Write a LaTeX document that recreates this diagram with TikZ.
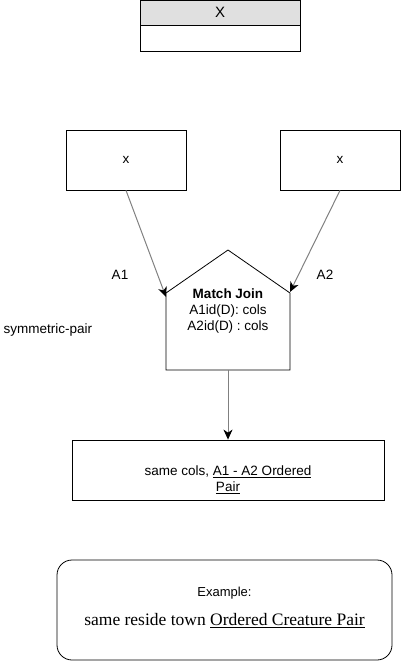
\documentclass[tikz,border=0pt]{standalone}
\usepackage{fontspec}
\setmainfont{Liberation Sans}
\newfontfamily\timesfont{Liberation Serif}
\usepackage{xcolor}
\usetikzlibrary{positioning,arrows.meta,calc}

\definecolor{headgrey}{HTML}{E0E0E0}
\definecolor{edgegrey}{HTML}{808080}

\begin{document}
\begin{tikzpicture}[x=1pt, y=-1pt,
      box/.style={draw, thick, minimum width=120pt, minimum height=60pt, inner sep=0pt},
      lbl/.style={font=\fontsize{13.5}{16}\selectfont},
      arr/.style={draw=edgegrey, line width=1pt, -{Stealth[length=10pt, width=9pt, inset=3pt, black]}},
    ]
    \useasboundingbox (0,0) rectangle (401,661);
    % entity table at the top
    \node[draw, thick, fill=headgrey, minimum width=160pt, minimum height=25pt, inner sep=0pt, font=\fontsize{15}{17}\selectfont] (ent) at (220,12.5) {X};
    \node[draw, thick, minimum width=160pt, minimum height=26pt, inner sep=0pt, below=0pt of ent] (entbody) {};
    % the two inputs
    \node[box, lbl] (left) at (126,160) {x};
    \node[box, lbl] (right) at (340,160) {x};
    % match join pentagon
    \coordinate (mjtop) at (228,250);
    \coordinate (mjl) at (166,293);
    \coordinate (mjr) at (290,293);
    \coordinate (mjbot) at (228,370);
    \draw[thick] (mjtop) -- (mjr) -- (290,370) -- (166,370) -- (mjl) -- cycle;
    \node[lbl, align=center] (mj) at (228,311) {\textbf{Match Join}\\A1id(D): cols\\A2id(D) : cols};
    % result and example
    \node[draw, thick, minimum width=312pt, minimum height=60pt, inner sep=0pt] (res) at (228,470) {};
    \node[lbl, align=center] (restxt) at (228,480) {same cols, \underline{A1 - A2 Ordered}\\\underline{Pair}};
    \node[draw, thick, rounded corners=15pt, minimum width=335pt, minimum height=100pt] (ex) at (224.5,610) {};
    \node[font=\fontsize{13}{15}\selectfont] (extitle) at (224.5,593) {Example:};
    \node[font=\fontsize{17.5}{20}\selectfont\timesfont] (extxt) at (224.5,621) {same reside town \underline{Ordered Creature Pair}};
    % edges
    \draw[arr] (left.south) -- ($(mjl)+(0,4)$);
    \draw[arr] (right.south) -- ($(mjr)+(0,-1)$);
    \draw[arr] (mjbot) -- (res.north);
    \node[lbl] (a1) at (120,275) {A1};
    \node[lbl] (a2) at (325,275) {A2};
    \node[lbl] (sym) at (48,330) {symmetric-pair};
  \end{tikzpicture}
\end{document}
